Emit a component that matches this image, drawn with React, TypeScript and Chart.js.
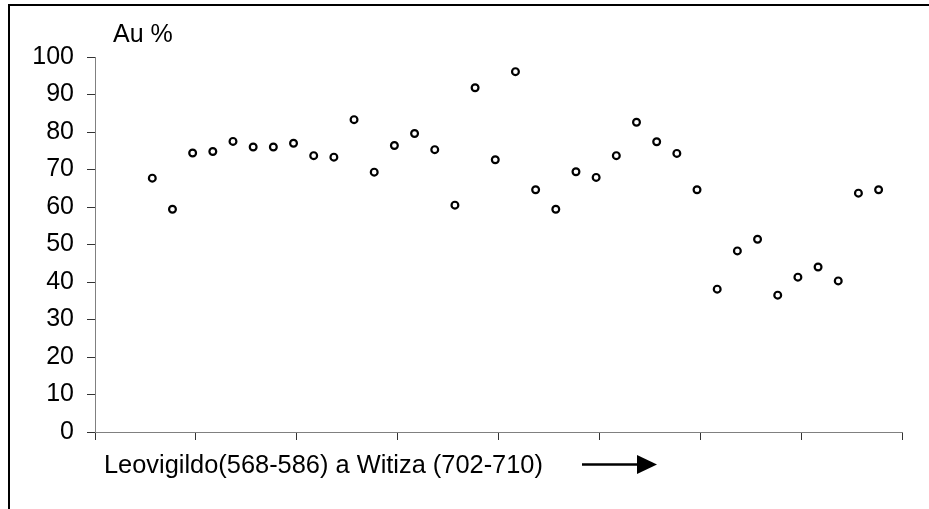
import React, { useEffect, useRef } from 'react';
import { Chart, registerables } from 'chart.js';

Chart.register(...registerables);

// Sample order (Leovigildo 568-586 ... Witiza 702-710)
const sampleIndex = [
  1, 2, 3, 4, 5, 6, 7, 8, 9, 10, 11, 12, 13, 14, 15, 16, 17, 18, 19, 20,
  21, 22, 23, 24, 25, 26, 27, 28, 29, 30, 31, 32, 33, 34, 35, 36, 37,
];
// Gold content (%)
const auPercent = [
  67.7, 59.4, 74.4, 74.8, 77.5, 76.0, 76.0, 77.0, 73.7, 73.3, 83.3, 69.3,
  76.4, 79.6, 75.3, 60.5, 91.8, 72.6, 96.1, 64.6, 59.4, 69.4, 67.9, 73.7,
  82.6, 77.4, 74.3, 64.6, 38.1, 48.3, 51.4, 36.5, 41.3, 44.0, 40.3, 63.7,
  64.6,
];
const yMin = 0;
const yMax = 100;
const yStep = 10;
const xStart = -1.84;
const xTickCount = 9;
const xStep = 5;
const yTitle = 'Au %';
const xCaption = 'Leovigildo(568-586) a Witiza (702-710)';

const FONT = '"Liberation Sans", Arial, sans-serif';

const decorPlugin = {
  id: 'decor',
  afterDraw(chart: any) {
    const ctx = chart.ctx;
    ctx.save();
    // frame
    ctx.strokeStyle = '#000';
    ctx.lineWidth = 2;
    ctx.beginPath();
    ctx.moveTo(9, chart.height);
    ctx.lineTo(9, 5);
    ctx.lineTo(chart.width, 5);
    ctx.stroke();
    // texts
    ctx.fillStyle = '#000';
    ctx.textAlign = 'left';
    ctx.textBaseline = 'alphabetic';
    ctx.font = '25px ' + FONT;
    ctx.fillText(yTitle, 113, 42);
    ctx.font = '25.4px ' + FONT;
    ctx.fillText(xCaption, 104, 473);
    // arrow
    ctx.lineWidth = 2.5;
    ctx.beginPath();
    ctx.moveTo(582, 464.5);
    ctx.lineTo(640, 464.5);
    ctx.stroke();
    ctx.beginPath();
    ctx.moveTo(637, 455);
    ctx.lineTo(657, 464.5);
    ctx.lineTo(637, 474);
    ctx.closePath();
    ctx.fill();
    ctx.restore();
  },
};

export default function App() {
  const ref = useRef<HTMLCanvasElement>(null);
  useEffect(() => {
    if (!ref.current) return;
    const data = sampleIndex.map((x, i) => ({ x, y: auPercent[i] }));
    const chart = new Chart(ref.current, {
      type: 'scatter',
      data: {
        datasets: [
          {
            data,
            showLine: false,
            pointStyle: 'circle',
            pointRadius: 3.4,
            pointBorderWidth: 2.2,
            borderColor: '#000',
            backgroundColor: '#fff',
            pointBackgroundColor: '#fff',
            pointBorderColor: '#000',
            clip: false,
          } as any,
        ],
      },
      options: {
        responsive: false,
        animation: false,
        events: [],
        layout: { padding: { top: 57, right: 27, bottom: 0, left: 0 } },
        plugins: { legend: { display: false }, tooltip: { enabled: false }, title: { display: false } },
        scales: {
          x: {
            type: 'linear',
            min: xStart,
            max: xStart + xStep * (xTickCount - 1),
            afterBuildTicks: (scale: any) => {
              scale.ticks = Array.from({ length: xTickCount }, (_, k) => ({ value: xStart + xStep * k }));
            },
            afterFit: (scale: any) => {
              scale.height = 77;
            },
            ticks: { display: false },
            grid: { drawOnChartArea: false, drawTicks: true, tickLength: 8, tickColor: '#333', lineWidth: 1 },
            border: { display: true, color: '#808080', width: 1 },
          },
          y: {
            type: 'linear',
            min: yMin,
            max: yMax,
            afterFit: (scale: any) => {
              scale.width = 95;
            },
            ticks: {
              stepSize: yStep,
              color: '#000',
              padding: 13,
              font: { family: FONT, size: 25 },
            },
            grid: { drawOnChartArea: false, drawTicks: true, tickLength: 8, tickColor: '#333', lineWidth: 1 },
            border: { display: true, color: '#808080', width: 1 },
          },
        },
      },
      plugins: [decorPlugin],
    });
    return () => chart.destroy();
  }, []);
  return (
    <div style={{ position: 'absolute', left: 0, top: 0, width: 929, height: 509, background: '#fff' }}>
      <canvas ref={ref} width={929} height={509} style={{ width: 929, height: 509, display: 'block' }} />
    </div>
  );
}
